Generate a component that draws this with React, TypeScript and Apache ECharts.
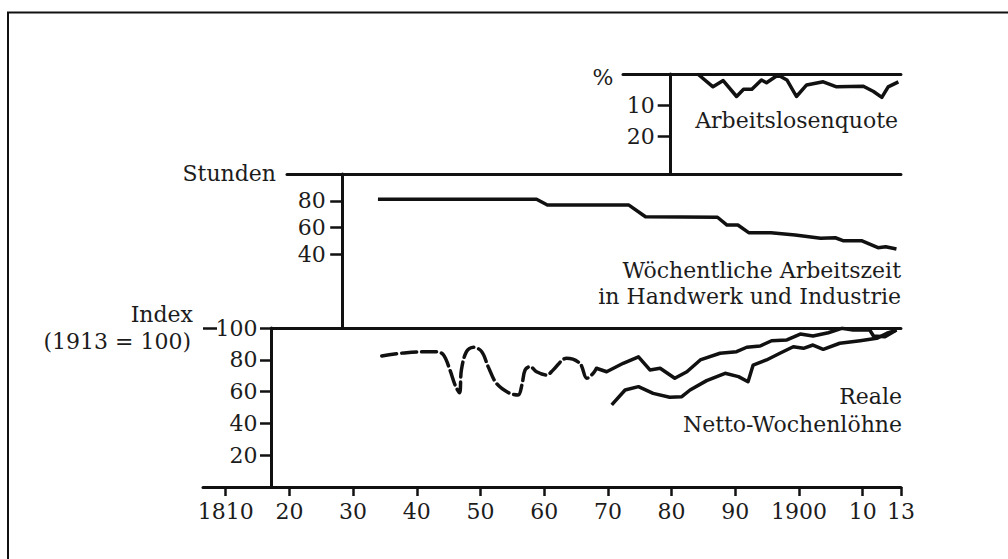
import React, { useEffect, useRef } from "react";
import * as echarts from "echarts";

// ---------- data (years as placed on the chart's horizontal scale) ----------
const TICK_YEARS = [1810, 1820, 1830, 1840, 1850, 1860, 1870, 1880, 1890, 1900, 1910, 1916];
const TICK_LABELS = ["1810", "20", "30", "40", "50", "60", "70", "80", "90", "1900", "10", "13"];
const UNEMP_TICKS = [10, 20];
const HOURS_TICKS = [40, 60, 80];
const INDEX_TICKS = [20, 40, 60, 80, 100];

// Arbeitslosenquote (%)
const unemployment: [number, number][] = [
  [1884.1, 0], [1886.5, 4.1], [1888.1, 2.1], [1890.2, 7.2], [1891.3, 4.9], [1892.6, 4.9],
  [1894.1, 1.9], [1894.9, 2.8], [1896.7, 0.3], [1898.1, 1.9], [1899.6, 7.2], [1901.2, 3.5],
  [1903.8, 2.5], [1905.9, 4.1], [1910.1, 3.9], [1911.7, 5.6], [1913.0, 7.5], [1914.0, 4.1],
  [1915.6, 2.5],
];

// Wöchentliche Arbeitszeit (Stunden)
const hours: [number, number][] = [
  [1833.9, 81.1], [1858.8, 81.1], [1860.5, 76.8], [1873.3, 76.8], [1875.9, 68.1], [1887.2, 67.7],
  [1888.7, 61.9], [1890.4, 61.9], [1892.1, 56.2], [1895.6, 56.2], [1899.4, 54.4], [1903.4, 52.0],
  [1905.7, 52.4], [1906.9, 50.2], [1909.8, 50.2], [1912.4, 45.0], [1913.6, 45.7], [1915.3, 44.0],
];

// Reale Netto-Wochenlöhne (Index 1913 = 100)
const wagesDashed: [number, number][] = [
  [1834.5, 82.4], [1838.4, 84.5], [1843.1, 85.1], [1844.2, 83.0], [1845.2, 73.6], [1846.0, 64.2],
  [1846.7, 59.3], [1847.0, 73.6], [1847.8, 85.1], [1848.9, 87.9], [1850.2, 85.1], [1851.2, 75.7],
  [1852.5, 65.2], [1854.4, 59.3], [1855.9, 57.9], [1856.5, 64.2], [1857.0, 73.6], [1857.8, 75.7],
  [1858.8, 72.5], [1860.4, 70.4], [1861.4, 73.6], [1863.5, 80.9], [1865.6, 77.8], [1866.7, 68.4],
  [1867.7, 71.5], [1868.2, 74.7],
];
const wagesUpper: [number, number][] = [
  [1868.2, 74.7], [1869.8, 72.5], [1872.4, 77.8], [1874.8, 81.9], [1876.6, 73.6], [1878.2, 74.7],
  [1880.5, 68.4], [1882.4, 72.5], [1884.5, 79.9], [1887.6, 84.1], [1890.2, 85.1], [1891.8, 87.9],
  [1893.9, 88.7], [1895.7, 92.0], [1898.1, 92.5], [1900.2, 96.2], [1902.2, 95.0], [1904.6, 97.0],
  [1906.7, 99.8], [1908.5, 98.7], [1911.1, 98.7], [1911.7, 95.0], [1913.5, 94.5], [1915.3, 98.7],
];
const wagesLower: [number, number][] = [
  [1870.6, 51.6], [1872.7, 61.0], [1874.8, 63.1], [1877.1, 58.9], [1879.7, 56.4], [1881.6, 56.8],
  [1882.9, 61.0], [1885.5, 66.9], [1888.4, 71.5], [1890.5, 69.4], [1892.0, 66.2], [1892.8, 76.7],
  [1894.9, 79.9], [1897.0, 84.1], [1899.1, 88.2], [1900.7, 87.2], [1902.2, 89.3], [1903.8, 86.6],
  [1906.4, 90.4], [1909.6, 92.0], [1912.2, 93.5], [1913.8, 96.7], [1915.3, 98.7],
];

// ---------- layout ----------
const W = 1008;
const H = 559;
const X0 = 225.7; // pixel of 1810
const PPY = 6.37; // pixels per year
const XMAX = 1916;
const yearAt = (p: number) => 1810 + (p - X0) / PPY;
const RIGHT = W - (X0 + (XMAX - 1810) * PPY);
const FONT = "'DejaVu Serif', 'Liberation Serif', serif";
const FS = 22;
const INK = "#111";
const TXT = "#1c1c1c";
const AXW = 3;
const LW = 3.5;

const lineOnly = (gridIndex: number, position: "top" | "bottom") => ({
  type: "value" as const,
  gridIndex,
  position,
  min: 0,
  max: 1,
  axisLine: { show: true, onZero: false, lineStyle: { color: INK, width: AXW } },
  axisTick: { show: false },
  axisLabel: { show: false },
  splitLine: { show: false },
});

const hiddenX = (gridIndex: number, min: number) => ({
  type: "value" as const,
  gridIndex,
  min,
  max: XMAX,
  show: false,
  axisLine: { onZero: false },
  splitLine: { show: false },
});

const hiddenY = (gridIndex: number) => ({
  type: "value" as const,
  gridIndex,
  min: 0,
  max: 1,
  show: false,
  axisLine: { onZero: false },
  splitLine: { show: false },
});

const labelStyle = (margin: number) => ({
  fontFamily: FONT,
  fontSize: FS,
  color: TXT,
  margin,
});

const txt = (text: string, x: number, y: number, align: string) => ({
  type: "text",
  x,
  y,
  style: {
    text,
    fontFamily: FONT,
    fontSize: FS,
    fill: TXT,
    align,
    textAlign: align,
    verticalAlign: "middle",
    textVerticalAlign: "middle",
  },
});

export default function App() {
  const ref = useRef<HTMLDivElement>(null);

  useEffect(() => {
    if (!ref.current) return;
    const chart = echarts.init(ref.current, undefined, { renderer: "svg" });

    const gridB = { left: 271.5, right: RIGHT, top: 328, bottom: H - 487 };
    const gridM = { left: 342.7, right: RIGHT, top: 174, bottom: H - 328 };
    const gridT = { left: 670.7, right: RIGHT, top: 74, bottom: H - 174 };

    const option: any = {
      animation: false,
      backgroundColor: "#fff",
      grid: [
        { left: 203, right: RIGHT, top: 328, bottom: H - 487 }, // 0: x axis
        gridB, // 1: wages
        { left: 287, right: RIGHT, top: 174, bottom: H - 328 }, // 2: hours top rule
        gridM, // 3: hours
        { left: 623, right: RIGHT, top: 74, bottom: H - 174 }, // 4: unemployment top rule
        gridT, // 5: unemployment
      ],
      xAxis: [
        {
          type: "value",
          gridIndex: 0,
          position: "bottom",
          min: yearAt(203),
          max: XMAX,
          axisLine: { show: true, onZero: false, lineStyle: { color: INK, width: AXW } },
          axisTick: {
            show: true,
            customValues: TICK_YEARS,
            length: 9,
            inside: false,
            lineStyle: { color: INK, width: 2.5 },
          },
          axisLabel: {
            ...labelStyle(13),
            customValues: TICK_YEARS,
            formatter: (v: number) => {
              const i = TICK_YEARS.indexOf(Math.round(v));
              return i >= 0 ? TICK_LABELS[i] : "";
            },
          },
          splitLine: { show: false },
        },
        hiddenX(1, yearAt(271.5)), // 1
        lineOnly(1, "top"), // 2
        lineOnly(2, "top"), // 3
        hiddenX(3, yearAt(342.7)), // 4
        lineOnly(4, "top"), // 5
        hiddenX(5, yearAt(670.7)), // 6
      ],
      yAxis: [
        hiddenY(0),
        {
          type: "value",
          gridIndex: 1,
          min: 0,
          max: 100,
          interval: 20,
          axisLine: { show: true, onZero: false, lineStyle: { color: INK, width: AXW } },
          axisTick: {
            show: true,
            customValues: INDEX_TICKS,
            length: 11.5,
            lineStyle: { color: INK, width: 2.5 },
          },
          axisLabel: { ...labelStyle(14), customValues: INDEX_TICKS },
          splitLine: { show: false },
        },
        hiddenY(2),
        {
          type: "value",
          gridIndex: 3,
          min: -15,
          max: 100,
          axisLine: { show: true, onZero: false, lineStyle: { color: INK, width: AXW } },
          axisTick: {
            show: true,
            customValues: HOURS_TICKS,
            length: 12.5,
            lineStyle: { color: INK, width: 2.5 },
          },
          axisLabel: { ...labelStyle(17), customValues: HOURS_TICKS },
          splitLine: { show: false },
        },
        hiddenY(4),
        {
          type: "value",
          gridIndex: 5,
          inverse: true,
          min: 0,
          max: 32,
          axisLine: { show: true, onZero: false, lineStyle: { color: INK, width: AXW } },
          axisTick: {
            show: true,
            customValues: UNEMP_TICKS,
            length: 13,
            lineStyle: { color: INK, width: 2.5 },
          },
          axisLabel: { ...labelStyle(16), customValues: UNEMP_TICKS },
          splitLine: { show: false },
        },
      ],
      series: [
        {
          name: "Arbeitslosenquote",
          type: "line",
          xAxisIndex: 6,
          yAxisIndex: 5,
          data: unemployment,
          symbol: "none",
          lineStyle: { color: INK, width: LW, join: "round" },
        },
        {
          name: "Wöchentliche Arbeitszeit",
          type: "line",
          xAxisIndex: 4,
          yAxisIndex: 3,
          data: hours,
          symbol: "none",
          lineStyle: { color: INK, width: LW, join: "round" },
        },
        {
          name: "Reale Netto-Wochenlöhne (frühe Schätzung)",
          type: "line",
          xAxisIndex: 1,
          yAxisIndex: 1,
          data: wagesDashed,
          symbol: "none",
          smooth: 0.35,
          lineStyle: { color: INK, width: LW, type: [15, 5], cap: "round" },
        },
        {
          name: "Reale Netto-Wochenlöhne A",
          type: "line",
          xAxisIndex: 1,
          yAxisIndex: 1,
          data: wagesUpper,
          symbol: "none",
          lineStyle: { color: INK, width: LW, join: "round" },
        },
        {
          name: "Reale Netto-Wochenlöhne B",
          type: "line",
          xAxisIndex: 1,
          yAxisIndex: 1,
          data: wagesLower,
          symbol: "none",
          lineStyle: { color: INK, width: LW, join: "round" },
        },
      ],
      graphic: [
        // frame
        { type: "line", shape: { x1: 7, y1: 12.5, x2: W, y2: 12.5 }, style: { stroke: INK, lineWidth: 2 } },
        { type: "line", shape: { x1: 8, y1: 12, x2: 8, y2: H }, style: { stroke: INK, lineWidth: 2 } },
        // stray dash before "100"
        { type: "line", shape: { x1: 203, y1: 328.5, x2: 217, y2: 328.5 }, style: { stroke: INK, lineWidth: 2.5 } },
        txt("%", 603, 77, "center"),
        txt("Arbeitslosenquote", 898, 120, "right"),
        txt("Stunden", 276, 173, "right"),
        txt("Wöchentliche Arbeitszeit", 901, 270, "right"),
        txt("in Handwerk und Industrie", 901, 296, "right"),
        txt("Index", 193, 314, "right"),
        txt("(1913 = 100)", 191, 341, "right"),
        txt("Reale", 902, 396, "right"),
        txt("Netto-Wochenlöhne", 902, 424, "right"),
      ],
    };

    chart.setOption(option);
    return () => chart.dispose();
  }, []);

  return (
    <div
      ref={ref}
      style={{ position: "absolute", left: 0, top: 0, width: W, height: H, background: "#fff" }}
    />
  );
}
